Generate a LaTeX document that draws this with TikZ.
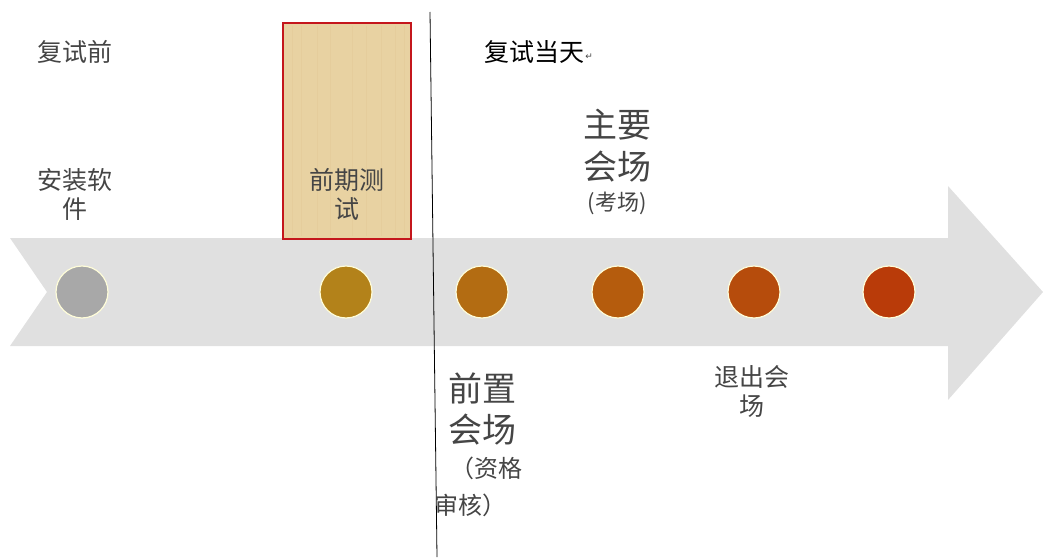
\documentclass[tikz,border=0pt]{standalone}
\usepackage{fontspec}
\newfontfamily\cjk{Noto Sans CJK SC}
\newfontfamily\dejavu{DejaVu Sans}
\definecolor{arrowgray}{HTML}{E0E0E0}
\definecolor{txtgray}{HTML}{454545}
\definecolor{boxred}{HTML}{C4161C}
\definecolor{parch}{HTML}{E8D2A2}
\definecolor{cA}{HTML}{A8A8A8}
\definecolor{cB}{HTML}{B3821A}
\definecolor{cC}{HTML}{B36C12}
\definecolor{cD}{HTML}{B55C0D}
\definecolor{cE}{HTML}{B64C0C}
\definecolor{cF}{HTML}{B93B09}
\tikzset{
  dot/.style={circle, minimum size=52pt, inner sep=0pt, draw=white!85!yellow, line width=1.2pt},
  lbl/.style={font=\cjk\fontsize{25}{29}\selectfont, text=txtgray, align=center, inner sep=0pt},
  biglbl/.style={font=\cjk\fontsize{34}{42}\selectfont, text=txtgray, align=center, inner sep=0pt},
  smalllbl/.style={font=\cjk\fontsize{22}{26}\selectfont, text=txtgray, align=center, inner sep=0pt},
  midlbl/.style={font=\cjk\fontsize{24}{28}\selectfont, text=txtgray, align=center, inner sep=0pt},
}
\begin{document}
\begin{tikzpicture}[x=1pt,y=-1pt]
\useasboundingbox (0,0) rectangle (1043,559);
% big arrow
\fill[arrowgray] (10,238) -- (948,238) -- (948,186) -- (1043,292) -- (948,400) -- (948,346) -- (10,346) -- (47,292) -- cycle;
% highlighted box
\node[draw=boxred, line width=2.5pt, fill=parch, minimum width=128pt, minimum height=216pt, inner sep=0pt] (box) at (347,131) {};
\foreach \xx in {292,301,317,330,352,366,381,395,404}
  \draw[parch!80!brown, line width=0.6pt, opacity=0.25] (\xx,26) -- (\xx,236);
\node[draw=boxred, line width=2.5pt, minimum width=128pt, minimum height=216pt, inner sep=0pt] (boxframe) at (347,131) {};
% divider line
\coordinate (ltop) at (430,12);
\coordinate (lbot) at (437,557);
\draw[black, line width=0.8pt] (ltop) -- (lbot);
% dots
\node[dot, fill=cA] (c1) at (82,292) {};
\node[dot, fill=cB] (c2) at (346,292) {};
\node[dot, fill=cC] (c3) at (482,292) {};
\node[dot, fill=cD] (c4) at (618,292) {};
\node[dot, fill=cE] (c5) at (754,292) {};
\node[dot, fill=cF] (c6) at (889,292) {};
% labels
\node[lbl] (pre) at (75,52) {复试前};
\node[lbl, text=black] (day) at (534,52) {复试当天};
\node[font=\dejavu\fontsize{9}{9}\selectfont, text=txtgray, inner sep=0pt, anchor=west] (ret) at ([xshift=1pt,yshift=-5pt]day.east) {↵};
\node[lbl] (install) at (75,194) {安装软\\件};
\node[lbl] (pretest) at (347,194) {前期测\\试};
\node[biglbl] (main) at (617,146) {主要\\会场};
\node[smalllbl] (mainsub) at (617,203) {(考场)};
\node[biglbl] (f1) at (482,388) {前置};
\node[biglbl] (f2) at (482,430) {会场};
\node[midlbl] (f3) at (486,468) {（资格};
\node[midlbl] (f4) at (470,505) {审核）};
\node[lbl] (exit) at (752,391) {退出会\\场};
\end{tikzpicture}
\end{document}
